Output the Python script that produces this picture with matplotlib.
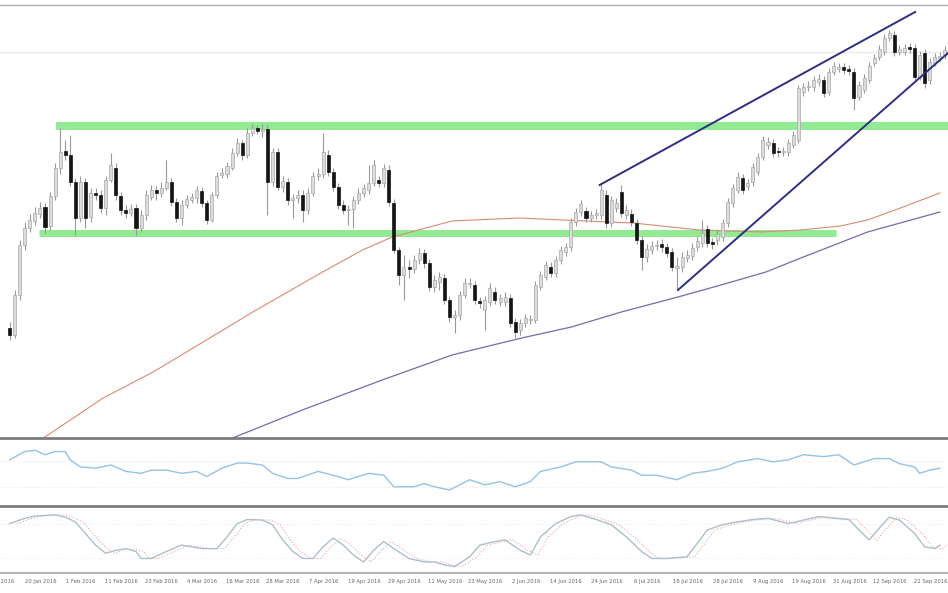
import matplotlib
matplotlib.use('Agg')
import matplotlib.pyplot as plt
import numpy as np

#==============================================================================
# Data (daily candles, arbitrary price units)
#==============================================================================
opens = [112, 105, 145, 195, 212, 219, 226, 233, 214, 244,
         272, 289, 285, 258, 222, 258, 223, 247, 245, 232,
         260, 272, 244, 230, 227, 232, 212, 225, 243, 250,
         247, 252, 258, 238, 222, 235, 240, 242, 249, 237,
         220, 245, 265, 266, 272, 287, 297, 285, 307, 312,
         309, 311, 258, 288, 253, 258, 240, 242, 245, 230,
         247, 264, 266, 285, 268, 253, 235, 230, 231, 240,
         247, 250, 257, 260, 257, 270, 237, 190, 165, 173,
         171, 180, 187, 177, 153, 158, 162, 140, 123, 125,
         145, 156, 155, 139, 130, 138, 148, 138, 138, 142,
         118, 110, 117, 120, 120, 153, 163, 173, 167, 180,
         188, 193, 218, 228, 229, 222, 225, 225, 245, 217,
         232, 248, 225, 226, 217, 200, 183, 190, 194, 196,
         193, 188, 172, 173, 182, 184, 193, 197, 211, 198,
         200, 203, 217, 237, 250, 262, 254, 258, 268, 283,
         295, 297, 289, 288, 288, 295, 300, 348, 353, 353,
         358, 360, 348, 368, 371, 373, 371, 368, 343, 350,
         360, 377, 383, 388, 402, 405, 388, 388, 393, 392,
         363, 387, 360, 377, 382, 384]
highs = [118, 150, 200, 218, 226, 233, 238, 237, 248, 277,
         312, 300, 305, 262, 264, 262, 252, 252, 250, 264,
         287, 277, 248, 235, 236, 236, 230, 250, 255, 254,
         258, 280, 262, 242, 240, 245, 247, 254, 253, 240,
         248, 268, 272, 278, 292, 302, 300, 312, 316, 315,
         316, 315, 292, 292, 264, 262, 246, 250, 250, 252,
         268, 272, 307, 290, 272, 257, 240, 235, 244, 252,
         256, 275, 280, 264, 276, 275, 241, 193, 185, 180,
         185, 192, 191, 181, 165, 168, 166, 144, 130, 149,
         162, 162, 159, 143, 144, 157, 153, 146, 148, 146,
         122, 121, 126, 125, 159, 169, 179, 178, 184, 194,
         197, 222, 232, 240, 233, 229, 231, 256, 250, 244,
         242, 255, 235, 231, 221, 204, 196, 199, 200, 201,
         197, 192, 183, 188, 190, 197, 204, 220, 215, 202,
         210, 221, 242, 256, 268, 266, 261, 277, 287, 304,
         303, 301, 293, 293, 301, 309, 355, 357, 359, 364,
         366, 364, 372, 378, 377, 377, 375, 372, 359, 366,
         378, 386, 395, 406, 410, 409, 395, 396, 397, 396,
         389, 391, 382, 387, 388, 394]
lows = [100, 102, 140, 190, 208, 215, 222, 207, 210, 240,
        266, 280, 254, 205, 218, 212, 218, 240, 227, 225,
        258, 240, 225, 222, 224, 205, 208, 220, 240, 240,
        243, 250, 234, 218, 215, 232, 237, 237, 233, 216,
        218, 242, 262, 262, 270, 284, 280, 282, 304, 306,
        303, 225, 254, 250, 248, 235, 222, 237, 218, 226,
        244, 260, 262, 264, 249, 231, 226, 215, 212, 236,
        243, 246, 254, 253, 253, 234, 187, 155, 140, 162,
        167, 176, 172, 149, 148, 150, 136, 118, 107, 120,
        142, 152, 136, 132, 110, 134, 136, 134, 134, 113,
        102, 105, 113, 116, 117, 150, 160, 163, 163, 176,
        184, 189, 214, 224, 218, 218, 221, 221, 212, 213,
        228, 223, 221, 214, 196, 170, 178, 186, 190, 188,
        183, 169, 150, 168, 178, 180, 189, 193, 193, 191,
        195, 199, 213, 233, 247, 246, 250, 254, 265, 280,
        291, 283, 283, 284, 284, 292, 297, 344, 349, 349,
        354, 343, 345, 365, 368, 366, 365, 330, 340, 347,
        357, 374, 380, 385, 399, 384, 385, 385, 387, 359,
        360, 352, 356, 374, 379, 381]
closes = [105, 145, 195, 212, 220, 227, 232, 213, 244, 272,
          288, 285, 258, 222, 258, 222, 247, 245, 232, 260,
          275, 245, 230, 227, 231, 212, 225, 245, 250, 247,
          252, 258, 238, 222, 235, 241, 243, 250, 237, 220,
          245, 264, 267, 274, 287, 297, 285, 307, 312, 309,
          311, 258, 288, 253, 259, 240, 242, 245, 230, 247,
          264, 266, 288, 268, 253, 235, 230, 231, 240, 247,
          252, 257, 275, 257, 272, 238, 190, 165, 173, 171,
          180, 187, 177, 153, 160, 163, 140, 123, 125, 145,
          157, 157, 140, 137, 140, 152, 140, 142, 143, 117,
          108, 117, 122, 121, 155, 165, 175, 167, 180, 190,
          193, 218, 228, 236, 222, 225, 227, 250, 217, 240,
          237, 227, 230, 218, 200, 183, 191, 194, 195, 193,
          187, 173, 174, 183, 185, 192, 199, 207, 197, 196,
          206, 217, 238, 252, 263, 250, 257, 273, 283, 300,
          298, 287, 288, 289, 297, 305, 352, 353, 354, 360,
          361, 347, 368, 374, 373, 370, 369, 342, 355, 362,
          374, 382, 391, 402, 407, 388, 391, 392, 391, 363,
          385, 357, 378, 383, 384, 390]

# moving averages (bar, price)
ma_red_x = [6.7, 18.5, 28.4, 36.3, 48.1, 61.9, 69.8, 75.7, 87.5, 100.7, 113.7,
            123.3, 136.4, 148.6, 156.5, 164.3, 169.7, 176.2, 184.0]
ma_red_y = [2, 42, 68, 92, 128, 168, 190, 203, 219, 222, 219,
            217, 210, 208, 210, 214, 220, 232, 247]
ma_blue_x = [44.1, 57.9, 73.7, 87.5, 101.3, 111.1, 121.0, 132.2, 140.7, 149.6,
             156.5, 169.7, 184.0]
ma_blue_y = [2, 30, 60, 85, 102, 113, 128, 143, 155, 168, 182, 208, 228]

# support / resistance zones (level, start bar, end bar)
resistance = (314, 9.1, 186)
support = (206.5, 5.9, 163.5)

# rising channel (bars, prices)
channel_top_x = [116.7, 179.1]
channel_top_y = [255, 428]
channel_bot_x = [132.2, 185.6]
channel_bot_y = [150, 387]

# RSI
rsi_x = [0, 3, 5, 7, 9, 11, 12, 14, 17, 20, 23, 26, 28, 31, 34, 37, 39, 42, 45,
         47, 50, 52, 55, 57, 61, 64, 67, 71, 74, 76, 80, 82, 84, 87, 91, 94, 97,
         100, 103, 105, 109, 112, 117, 119, 123, 125, 128, 132, 135, 138, 141,
         144, 148, 151, 154, 157, 161, 164, 167, 171, 174, 176, 179, 180, 182, 184]
rsi_v = [72, 85, 87, 80, 85, 85, 72, 61, 59, 64, 54, 51, 56, 56, 51, 54, 46, 59, 67,
         67, 64, 51, 43, 43, 54, 48, 41, 51, 48, 30, 30, 35, 30, 25, 41, 33, 38,
         30, 38, 54, 61, 69, 69, 61, 56, 48, 48, 41, 51, 54, 59,
         69, 74, 69, 72, 80, 77, 80, 64, 74, 74, 66, 61, 51, 56, 59]

# Stochastic
sto_x = [0, 1, 3, 5, 9, 11, 13, 15, 17, 19, 21, 23, 25, 26, 28, 31, 34, 36, 38,
         41, 43, 45, 47, 50, 52, 54, 56, 58, 60, 62, 64, 66, 68, 70, 72, 74, 76,
         79, 82, 84, 86, 88, 91, 93, 96, 98, 101, 103, 105, 108, 111, 113, 116,
         119, 122, 125, 127, 130, 134, 136, 138, 141, 144, 147, 150, 154, 157,
         160, 163, 166, 168, 170, 172, 174, 176, 179, 181, 183, 184]
sto_v = [80, 83, 89, 93, 95, 91, 83, 63, 43, 29, 34, 37, 32, 20, 20, 32, 43, 40, 37,
         37, 57, 80, 87, 86, 78, 52, 32, 20, 20, 40, 55, 43, 26, 14, 34, 49, 37,
         20, 14, 14, 9, 6, 23, 43, 49, 52, 34, 26, 57, 80, 92, 95, 87,
         78, 57, 32, 20, 20, 23, 46, 69, 78, 83, 87, 89, 80, 86,
         92, 89, 87, 69, 52, 72, 91, 86, 63, 40, 37, 43]

date_labels = ["8 Jan 2016", "20 Jan 2016", "1 Feb 2016", "11 Feb 2016", "23 Feb 2016",
               "4 Mar 2016", "16 Mar 2016", "28 Mar 2016", "7 Apr 2016", "19 Apr 2016",
               "29 Apr 2016", "11 May 2016", "23 May 2016", "2 Jun 2016", "14 Jun 2016",
               "24 Jun 2016", "6 Jul 2016", "18 Jul 2016", "28 Jul 2016", "9 Aug 2016",
               "19 Aug 2016", "31 Aug 2016", "12 Sep 2016", "22 Sep 2016"]

#==============================================================================
# Figure
#==============================================================================
fig = plt.figure(figsize=(9.48, 5.93), dpi=100)
ax = fig.add_axes([0, 0.2614, 1, 0.7302])
ax_rsi = fig.add_axes([0, 0.1467, 1, 0.1113], sharex=ax)
ax_sto = fig.add_axes([0, 0.0337, 1, 0.1079], sharex=ax)

o = np.array(opens); h = np.array(highs); l = np.array(lows); c = np.array(closes)
x = np.arange(len(c))
up = c >= o
lo = np.minimum(o, c)
hgt = np.maximum(np.abs(c - o), 0.8)

ax.axhline(388, color='#ebebeb', lw=1)
ax.hlines(resistance[0], resistance[1], resistance[2], color='#92ea92', lw=5.8, zorder=1)
ax.hlines(support[0], support[1], support[2], color='#92ea92', lw=5.0, zorder=1)

ax.plot(ma_red_x, ma_red_y, color='#d98a75', lw=0.8, zorder=2)
ax.plot(ma_blue_x, ma_blue_y, color='#6e6eae', lw=0.9, zorder=2)

ax.vlines(x, l, h, color='#999999', lw=0.8, zorder=3)
ax.bar(x[up], hgt[up], bottom=lo[up], width=0.6, color='#dcdcdc',
       edgecolor='#a8a8a8', lw=0.5, zorder=4)
ax.bar(x[~up], hgt[~up], bottom=lo[~up], width=0.6, color='#151515',
       edgecolor='#151515', lw=0.5, zorder=4)

ax.plot(channel_top_x, channel_top_y, color='#2e2e86', lw=1.4, zorder=5)
ax.plot(channel_bot_x, channel_bot_y, color='#2e2e86', lw=1.4, zorder=5)

ax.set_ylim(2, 435)
ax.set_xlim(-1.18, 185.6)

#====RSI=======================================================================
for lev in (30, 70):
    ax_rsi.axhline(lev, color='#f1e6dc', lw=0.8, ls=':')
ax_rsi.plot(rsi_x, rsi_v, color='#94c3e6', lw=1.0)
ax_rsi.set_ylim(0, 103)

#====Stochastic================================================================
for lev in (20, 80):
    ax_sto.axhline(lev, color='#eeeeee', lw=0.8, ls=':')
ax_sto.plot(np.array(sto_x) + 1.5, sto_v, color='#e6a8a8', lw=0.8, ls=':')
ax_sto.plot(sto_x, sto_v, color='#adbfc8', lw=1.0)
ax_sto.set_ylim(-5, 105)

ax_sto.set_xticks([8 * k - 1.9 for k in range(len(date_labels))])
ax_sto.set_xticklabels(date_labels, fontsize=3.8, color='#666666')
ax_sto.tick_params(axis='x', length=0, pad=4)

for a in (ax, ax_rsi, ax_sto):
    a.set_yticks([])
    a.tick_params(axis='x', which='both', length=0)
    a.spines['left'].set_visible(False)
    a.spines['right'].set_visible(False)
    a.spines['top'].set_visible(False)
    a.set_facecolor('white')
plt.setp(ax.get_xticklabels(), visible=False)
plt.setp(ax_rsi.get_xticklabels(), visible=False)

ax.spines['top'].set_visible(True)
ax.spines['top'].set_color('#b0b0b0')
ax.spines['top'].set_linewidth(1.0)
ax.spines['bottom'].set_color('#7d7d7d')
ax.spines['bottom'].set_linewidth(2.0)
ax_rsi.spines['bottom'].set_color('#7d7d7d')
ax_rsi.spines['bottom'].set_linewidth(2.0)
ax_sto.spines['bottom'].set_color('#a5a5a5')
ax_sto.spines['bottom'].set_linewidth(1.2)

fig.savefig('out.png', dpi=100)
